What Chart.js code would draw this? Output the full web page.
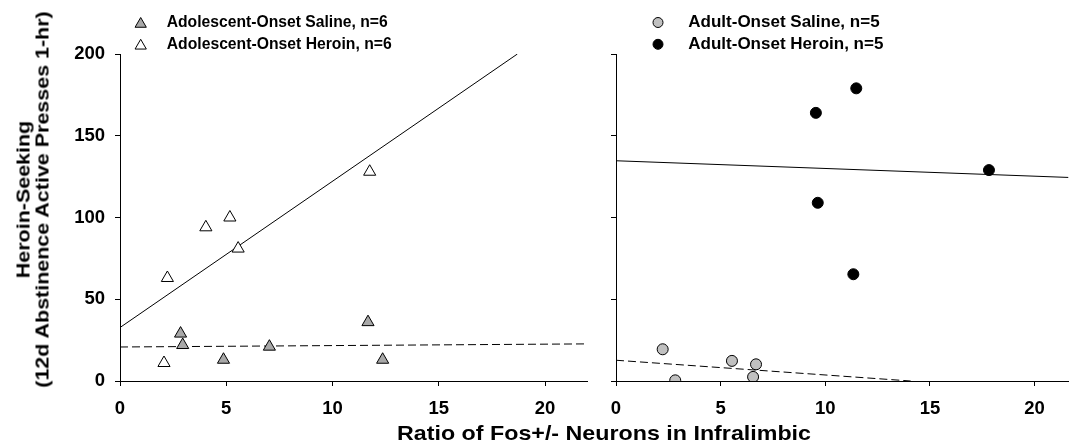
<!DOCTYPE html>
<html>
<head>
<meta charset="utf-8">
<script src="https://cdn.jsdelivr.net/npm/chart.js@4.4.1/dist/chart.umd.min.js"></script>
<style>
  body { margin: 0; background: #fff; }
  #wrap { position: relative; width: 1075px; height: 445px; overflow: hidden; font-family: "Liberation Sans", Arial, sans-serif; }
  canvas { position: absolute; top: 0; }
  #left { left: 0; }
  #right { left: 590px; }
  .title { position: absolute; font-weight: bold; color: #000; white-space: nowrap; text-align: center; }
  #xTitle { left: 604px; top: 422.6px; font-size: 20.5px; line-height: 20.5px; transform: translateX(-50%) scaleX(1.134); }
  #yTitle { left: -167px; top: 180.5px; width: 400px; height: 37px; font-size: 18.5px; line-height: 18.5px; transform: rotate(-90deg) scaleX(1.16); }
</style>
</head>
<body>
<div id="wrap">
  <canvas id="left" width="600" height="445"></canvas>
  <canvas id="right" width="485" height="445"></canvas>
  <div class="title" id="xTitle">Ratio of Fos+/- Neurons in Infralimbic</div>
  <div class="title" id="yTitle">Heroin-Seeking<br>(12d Abstinence Active Presses 1-hr)</div>
</div>
<script>
// values
const adolSalineX = [2.85, 2.95, 4.87, 7.03, 11.67, 12.36];
const adolSalineY = [29, 22, 13, 21, 36, 13];
const adolHeroinX = [2.07, 2.23, 4.04, 5.17, 5.56, 11.75];
const adolHeroinY = [11, 63, 94, 100, 81, 128];

const adultSalineX = [2.23, 2.83, 5.54, 6.55, 6.69];
const adultSalineY = [19.4, 0.4, 12.3, 2.5, 10.2];
const adultHeroinX = [9.55, 9.64, 11.34, 11.48, 17.82];
const adultHeroinY = [164, 109, 65.3, 179, 129];

// regression line end points as drawn
const adolHeroinFitX = [0, 18.7];
const adolHeroinFitY = [32.7, 200];
const adolSalineFitX = [0, 22];
const adolSalineFitY = [20.8, 22.7];
const adultHeroinFitX = [0, 21.62];
const adultHeroinFitY = [134.7, 124.5];
const adultSalineFitX = [0, 14.08];
const adultSalineFitY = [12.7, 0];

const xTicks = [0, 5, 10, 15, 20];
const yTicks = [0, 50, 100, 150, 200];

const legendLabels = ['Adolescent-Onset Saline, n=6', 'Adolescent-Onset Heroin, n=6',
                      'Adult-Onset Saline, n=5', 'Adult-Onset Heroin, n=5'];

function pts(xs, ys) {
  return xs.map((x, i) => ({ x: x, y: ys[i] }));
}

const tickFont = { family: '"Liberation Sans", Arial, sans-serif', size: 18.5, weight: 'bold' };

function markers(label, xs, ys, style, fill, radius) {
  return {
    label: label,
    data: pts(xs, ys),
    pointStyle: style,
    pointRadius: radius,
    pointBackgroundColor: fill,
    pointBorderColor: '#000',
    pointBorderWidth: 1,
    backgroundColor: fill,
    borderColor: '#000',
    showLine: false
  };
}

function fitLine(xs, ys, dashed) {
  return {
    data: pts(xs, ys),
    showLine: true,
    pointRadius: 0,
    borderColor: '#000',
    borderWidth: 1,
    borderDash: dashed ? [8, 4] : [],
    fill: false
  };
}

// draws the stacked legend above each panel
const panelLegend = {
  id: 'panelLegend',
  afterDraw(chart, args, opts) {
    const ctx = chart.ctx;
    ctx.save();
    opts.items.forEach((idx, row) => {
      const ds = chart.data.datasets[idx];
      const y = opts.y + row * opts.rowGap;
      ctx.fillStyle = ds.backgroundColor;
      ctx.strokeStyle = '#000';
      ctx.lineWidth = 1;
      Chart.helpers.drawPoint(ctx, { pointStyle: ds.pointStyle, radius: opts.radius, borderWidth: 1, rotation: 0 }, opts.x, y + (ds.pointStyle === 'triangle' ? 1.5 : 0));
      ctx.fillStyle = '#000';
      ctx.font = 'bold 17px "Liberation Sans", Arial, sans-serif';
      ctx.textBaseline = 'middle';
      ctx.textAlign = 'left';
      ctx.fillText(ds.label, opts.textX, y, opts.widths[row]);
    });
    ctx.restore();
  }
};

function axes(xMax, yWidth, showYLabels) {
  return {
    x: {
      type: 'linear', min: 0, max: xMax,
      afterFit: s => { s.height = 64; },
      afterBuildTicks: s => { s.ticks = xTicks.map(v => ({ value: v })); },
      ticks: { stepSize: 5, includeBounds: false, color: '#000', font: tickFont, padding: 12 },
      grid: { drawOnChartArea: false, drawTicks: true, tickLength: 5, color: '#000', lineWidth: 1 },
      border: { color: '#000', width: 1 }
    },
    y: {
      type: 'linear', min: 0, max: 200,
      afterFit: s => { s.width = yWidth; },
      afterBuildTicks: s => { s.ticks = yTicks.map(v => ({ value: v })); },
      ticks: { display: showYLabels, stepSize: 50, color: '#000', font: tickFont, padding: 10 },
      grid: { drawOnChartArea: false, drawTicks: true, tickLength: 5, color: '#000', lineWidth: 1 },
      border: { color: '#000', width: 1 }
    }
  };
}

window.onload = function () {
  new Chart(document.getElementById('left').getContext('2d'), {
    type: 'scatter',
    data: {
      datasets: [
        markers(legendLabels[0], adolSalineX, adolSalineY, 'triangle', '#a8a8a8', 7),
        markers(legendLabels[1], adolHeroinX, adolHeroinY, 'triangle', '#ffffff', 7),
        fitLine(adolHeroinFitX, adolHeroinFitY, false),
        fitLine(adolSalineFitX, adolSalineFitY, true)
      ]
    },
    options: {
      responsive: false,
      animation: false,
      layout: { padding: { top: 54, right: 12.5, left: 0, bottom: 0 } },
      plugins: {
        legend: { display: false },
        tooltip: { enabled: false },
        panelLegend: { items: [0, 1], x: 140.7, textX: 166.7, y: 22.5, rowGap: 21.8, radius: 6.5, widths: [221, 225] }
      },
      scales: axes(22, 120, true)
    },
    plugins: [panelLegend]
  });

  new Chart(document.getElementById('right').getContext('2d'), {
    type: 'scatter',
    data: {
      datasets: [
        markers(legendLabels[2], adultSalineX, adultSalineY, 'circle', '#c0c0c0', 5.5),
        markers(legendLabels[3], adultHeroinX, adultHeroinY, 'circle', '#000000', 5.5),
        fitLine(adultHeroinFitX, adultHeroinFitY, false),
        fitLine(adultSalineFitX, adultSalineFitY, true)
      ]
    },
    options: {
      responsive: false,
      animation: false,
      layout: { padding: { top: 54, right: 0, left: 0, bottom: 0 } },
      plugins: {
        legend: { display: false },
        tooltip: { enabled: false },
        panelLegend: { items: [0, 1], x: 68, textX: 98.3, y: 22.5, rowGap: 21.8, radius: 5, widths: [202, 205] }
      },
      scales: axes(21.62, 26, false)
    },
    plugins: [panelLegend]
  });
};
</script>
</body>
</html>
